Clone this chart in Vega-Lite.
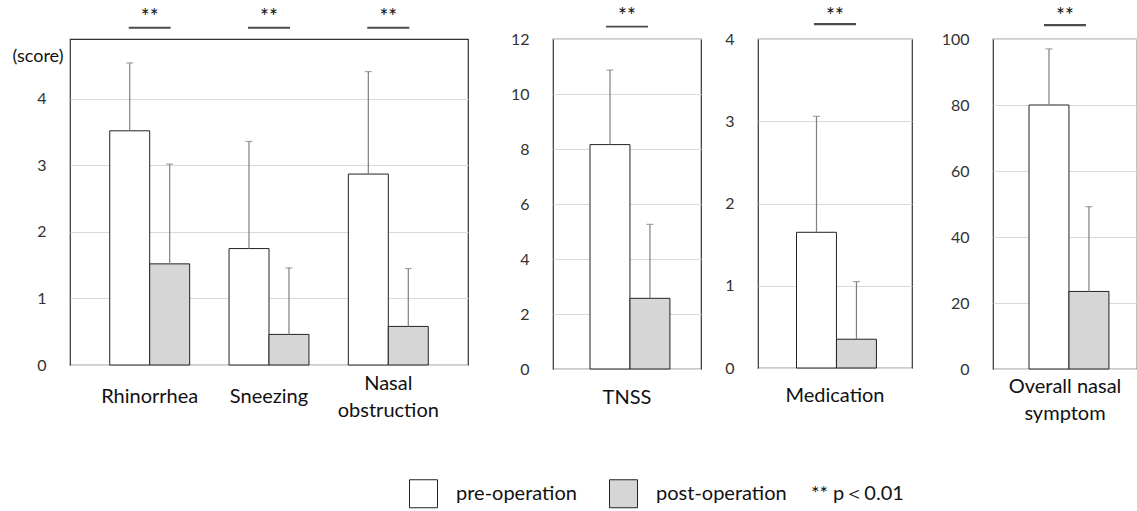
{
  "$schema": "https://vega.github.io/schema/vega-lite/v6.json",
  "background": "white",
  "padding": {"left": 11, "top": 4, "right": 0, "bottom": 0},
  "config": {
    "font": "Lato",
    "view": {"stroke": "#333333", "strokeWidth": 1.2},
    "axisY": {"labelFontSize": 16, "labelColor": "#333333", "ticks": false, "tickSize": 0, "domain": false, "labelPadding": 24, "gridColor": "#d9d9d9", "gridWidth": 1, "title": null, "format": "d"},
    "axisX": {"labelFontSize": 20, "labelColor": "#111111", "ticks": false, "tickSize": 0, "domain": false, "grid": false, "labelAngle": 0, "labelBaseline": "middle", "labelPadding": 29, "labelLineHeight": 27, "labelExpr": "split(datum.label, '|')", "title": null}
  },
  "data": {"values": [
    {"panel": "A", "item": "Rhinorrhea", "phase": "pre-operation", "mean": 3.52, "upper": 4.54, "sig": "**"},
    {"panel": "A", "item": "Rhinorrhea", "phase": "post-operation", "mean": 1.52, "upper": 3.02, "sig": "**"},
    {"panel": "A", "item": "Sneezing", "phase": "pre-operation", "mean": 1.75, "upper": 3.36, "sig": "**"},
    {"panel": "A", "item": "Sneezing", "phase": "post-operation", "mean": 0.46, "upper": 1.46, "sig": "**"},
    {"panel": "A", "item": "Nasal|obstruction", "phase": "pre-operation", "mean": 2.87, "upper": 4.41, "sig": "**"},
    {"panel": "A", "item": "Nasal|obstruction", "phase": "post-operation", "mean": 0.58, "upper": 1.45, "sig": "**"},
    {"panel": "B", "item": "TNSS", "phase": "pre-operation", "mean": 8.16, "upper": 10.87, "sig": "**"},
    {"panel": "B", "item": "TNSS", "phase": "post-operation", "mean": 2.57, "upper": 5.26, "sig": "**"},
    {"panel": "C", "item": "Medication", "phase": "pre-operation", "mean": 1.65, "upper": 3.06, "sig": "**"},
    {"panel": "C", "item": "Medication", "phase": "post-operation", "mean": 0.35, "upper": 1.05, "sig": "**"},
    {"panel": "D", "item": "Overall nasal|symptom", "phase": "pre-operation", "mean": 80.0, "upper": 97.0, "sig": "**"},
    {"panel": "D", "item": "Overall nasal|symptom", "phase": "post-operation", "mean": 23.5, "upper": 49.2, "sig": "**"}
  ]},
  "spacing": 40,
  "hconcat": [
    {
      "width": 398, "height": 326,
      "transform": [{"filter": "datum.panel == 'A'"}],
      "encoding": {"x": {"field": "item", "type": "nominal", "sort": null, "scale": {"paddingInner": 0.33, "paddingOuter": 0.333}, "axis": {"labelPadding": {"condition": {"test": "indexof(datum.value, '|') >= 0", "value": 18}, "value": 31}}}},
      "layer": [
        {"mark": {"type": "bar", "stroke": "#222222", "strokeWidth": 1},
         "encoding": {
           "xOffset": {"field": "phase", "type": "nominal", "sort": ["pre-operation", "post-operation"], "scale": {"paddingInner": 0, "paddingOuter": 0}},
           "y": {"field": "mean", "type": "quantitative", "scale": {"domain": [0, 4.9], "nice": false}, "axis": {"values": [0, 1, 2, 3, 4], "title": "(score)", "titleAngle": 0, "titleAlign": "right", "titleBaseline": "middle", "titleX": -7, "titleY": 17, "titleFontSize": 18, "titleFontWeight": "normal", "titleColor": "#111111"}},
           "fill": {"field": "phase", "type": "nominal", "scale": {"domain": ["pre-operation", "post-operation"], "range": ["#ffffff", "#d6d6d6"]},
             "legend": {"orient": "none", "legendX": 339, "legendY": 440, "direction": "horizontal", "symbolType": "square", "symbolSize": 784, "symbolStrokeColor": "#222222", "symbolStrokeWidth": 1, "labelFontSize": 20, "labelColor": "#111111", "labelOffset": 18, "columnPadding": 30, "title": "** p\uff1c0.01", "titleOrient": "right", "titleFontSize": 20, "titleFontWeight": "normal", "titleColor": "#111111", "titlePadding": 24, "titleBaseline": "middle"}}
         }},
        {"mark": {"type": "rule", "color": "#7f7f7f", "strokeWidth": 1.2},
         "encoding": {"xOffset": {"field": "phase", "type": "nominal", "sort": ["pre-operation", "post-operation"]}, "y": {"field": "mean", "type": "quantitative"}, "y2": {"field": "upper"}}},
        {"mark": {"type": "tick", "color": "#7f7f7f", "thickness": 1.2, "size": 7},
         "encoding": {"xOffset": {"field": "phase", "type": "nominal", "sort": ["pre-operation", "post-operation"]}, "y": {"field": "upper", "type": "quantitative"}}},
        {"transform": [{"filter": "datum.phase == 'pre-operation'"}],
         "mark": {"type": "tick", "color": "#000000", "thickness": 2, "size": 42},
         "encoding": {"y": {"datum": 5.07, "type": "quantitative"}}},
        {"transform": [{"filter": "datum.phase == 'pre-operation'"}],
         "mark": {"type": "text", "fontSize": 21, "baseline": "middle", "color": "#111111"},
         "encoding": {"y": {"datum": 5.22, "type": "quantitative"}, "text": {"field": "sig"}}}
      ]
    },
    {
      "spacing": 22,
      "hconcat": [
        {
          "width": 148, "height": 330,
          "transform": [{"filter": "datum.panel == 'B'"}],
          "encoding": {"x": {"field": "item", "type": "nominal", "sort": null, "scale": {"paddingInner": 0.33, "paddingOuter": 0.335}, "axis": {"labelPadding": 28}}},
          "layer": [
            {"mark": {"type": "bar", "stroke": "#222222", "strokeWidth": 1},
             "encoding": {
               "xOffset": {"field": "phase", "type": "nominal", "sort": ["pre-operation", "post-operation"], "scale": {"paddingInner": 0, "paddingOuter": 0}},
               "y": {"field": "mean", "type": "quantitative", "scale": {"domain": [0, 12], "nice": false}, "axis": {"values": [0, 2, 4, 6, 8, 10, 12]}},
               "fill": {"field": "phase", "type": "nominal"}
             }},
            {"mark": {"type": "rule", "color": "#7f7f7f", "strokeWidth": 1.2},
             "encoding": {"xOffset": {"field": "phase", "type": "nominal", "sort": ["pre-operation", "post-operation"]}, "y": {"field": "mean", "type": "quantitative"}, "y2": {"field": "upper"}}},
            {"mark": {"type": "tick", "color": "#7f7f7f", "thickness": 1.2, "size": 7},
             "encoding": {"xOffset": {"field": "phase", "type": "nominal", "sort": ["pre-operation", "post-operation"]}, "y": {"field": "upper", "type": "quantitative"}}},
            {"transform": [{"filter": "datum.phase == 'pre-operation'"}],
             "mark": {"type": "tick", "color": "#000000", "thickness": 1.6, "size": 42},
             "encoding": {"y": {"datum": 12.45, "type": "quantitative"}}},
            {"transform": [{"filter": "datum.phase == 'pre-operation'"}],
             "mark": {"type": "text", "fontSize": 21, "baseline": "middle", "color": "#111111"},
             "encoding": {"y": {"datum": 12.8, "type": "quantitative"}, "text": {"field": "sig"}}}
          ]
        },
        {
          "spacing": 27,
          "hconcat": [
            {
              "width": 154, "height": 329,
              "transform": [{"filter": "datum.panel == 'C'"}],
              "encoding": {"x": {"field": "item", "type": "nominal", "sort": null, "scale": {"paddingInner": 0.33, "paddingOuter": 0.335}, "axis": {"labelPadding": 27}}},
              "layer": [
                {"mark": {"type": "bar", "stroke": "#222222", "strokeWidth": 1},
                 "encoding": {
                   "xOffset": {"field": "phase", "type": "nominal", "sort": ["pre-operation", "post-operation"], "scale": {"paddingInner": 0, "paddingOuter": 0}},
                   "y": {"field": "mean", "type": "quantitative", "scale": {"domain": [0, 4], "nice": false}, "axis": {"values": [0, 1, 2, 3, 4]}},
                   "fill": {"field": "phase", "type": "nominal"}
                 }},
                {"mark": {"type": "rule", "color": "#7f7f7f", "strokeWidth": 1.2},
                 "encoding": {"xOffset": {"field": "phase", "type": "nominal", "sort": ["pre-operation", "post-operation"]}, "y": {"field": "mean", "type": "quantitative"}, "y2": {"field": "upper"}}},
                {"mark": {"type": "tick", "color": "#7f7f7f", "thickness": 1.2, "size": 7},
                 "encoding": {"xOffset": {"field": "phase", "type": "nominal", "sort": ["pre-operation", "post-operation"]}, "y": {"field": "upper", "type": "quantitative"}}},
                {"transform": [{"filter": "datum.phase == 'pre-operation'"}],
                 "mark": {"type": "tick", "color": "#000000", "thickness": 2.2, "size": 42},
                 "encoding": {"y": {"datum": 4.18, "type": "quantitative"}}},
                {"transform": [{"filter": "datum.phase == 'pre-operation'"}],
                 "mark": {"type": "text", "fontSize": 21, "baseline": "middle", "color": "#111111"},
                 "encoding": {"y": {"datum": 4.27, "type": "quantitative"}, "text": {"field": "sig"}}}
              ]
            },
            {
              "width": 144, "height": 330,
              "transform": [{"filter": "datum.panel == 'D'"}],
              "encoding": {"x": {"field": "item", "type": "nominal", "sort": null, "scale": {"paddingInner": 0.33, "paddingOuter": 0.335}, "axis": {"labelPadding": 17}}},
              "layer": [
                {"mark": {"type": "bar", "stroke": "#222222", "strokeWidth": 1},
                 "encoding": {
                   "xOffset": {"field": "phase", "type": "nominal", "sort": ["pre-operation", "post-operation"], "scale": {"paddingInner": 0, "paddingOuter": 0}},
                   "y": {"field": "mean", "type": "quantitative", "scale": {"domain": [0, 100], "nice": false}, "axis": {"values": [0, 20, 40, 60, 80, 100]}},
                   "fill": {"field": "phase", "type": "nominal"}
                 }},
                {"mark": {"type": "rule", "color": "#7f7f7f", "strokeWidth": 1.2},
                 "encoding": {"xOffset": {"field": "phase", "type": "nominal", "sort": ["pre-operation", "post-operation"]}, "y": {"field": "mean", "type": "quantitative"}, "y2": {"field": "upper"}}},
                {"mark": {"type": "tick", "color": "#7f7f7f", "thickness": 1.2, "size": 7},
                 "encoding": {"xOffset": {"field": "phase", "type": "nominal", "sort": ["pre-operation", "post-operation"]}, "y": {"field": "upper", "type": "quantitative"}}},
                {"transform": [{"filter": "datum.phase == 'pre-operation'"}],
                 "mark": {"type": "tick", "color": "#000000", "thickness": 2.2, "size": 42},
                 "encoding": {"y": {"datum": 104.2, "type": "quantitative"}}},
                {"transform": [{"filter": "datum.phase == 'pre-operation'"}],
                 "mark": {"type": "text", "fontSize": 21, "baseline": "middle", "color": "#111111"},
                 "encoding": {"y": {"datum": 106.8, "type": "quantitative"}, "text": {"field": "sig"}}}
              ]
            }
          ]
        }
      ]
    }
  ]
}
